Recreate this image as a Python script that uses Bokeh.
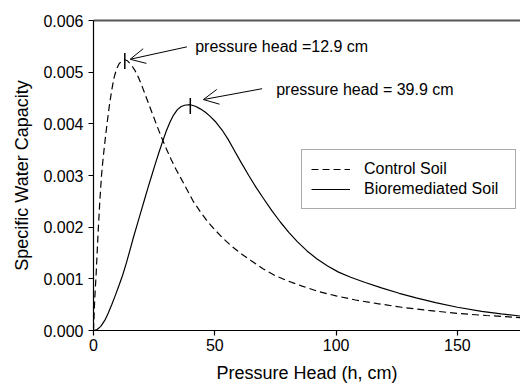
from bokeh.plotting import figure
from bokeh.models import (Range1d, FixedTicker, NumeralTickFormatter, LinearAxis,
                          Legend, LegendItem, Arrow, OpenHead, Label, ColumnDataSource)
from bokeh.embed import file_html
from bokeh.resources import INLINE

# ---- data ----
control_h = [0, 0.5, 1.1, 1.9, 2.6, 3.3, 4.0, 4.7, 5.5, 6.5, 7.5, 8.5, 9.5, 10.5,
             11.7, 12.9, 14.0, 15.0, 16.0, 17.0, 18.5, 20.0, 22.0, 24.0, 26.0, 28.0,
             30.0, 32.0, 34.0, 36.8, 41.0, 44.0, 47.0, 50.0, 53.5, 57.0, 61.0, 65.0,
             70.0, 75.0, 80.0, 86.0, 93.0, 100, 108, 117, 127, 138, 150, 162, 176]
control_c = [0, 0.0006, 0.0011, 0.0019, 0.0025, 0.0030, 0.00335, 0.00365, 0.00397,
             0.00434, 0.00465, 0.00490, 0.00506, 0.00516, 0.00522, 0.00524, 0.00522,
             0.00517, 0.00511, 0.00504, 0.00490, 0.00473, 0.00448, 0.00423, 0.00398,
             0.00374, 0.00352, 0.00331, 0.00312, 0.00288, 0.00251, 0.00230, 0.00211,
             0.00195, 0.00178, 0.00163, 0.00148, 0.00135, 0.00119, 0.00106, 0.00096,
             0.00086, 0.00075, 0.00067, 0.00059, 0.00052, 0.00045, 0.00039, 0.00033,
             0.00029, 0.00025]

bio_h = [0, 1.5, 3.0, 4.7, 6.0, 7.5, 9.0, 10.5, 12.0, 13.5, 15.0, 16.5, 18.0, 19.5,
         21.0, 22.5, 24.0, 25.5, 27.0, 28.5, 30.0, 31.5, 33.0, 34.5, 36.0, 37.5, 39.9,
         42.0, 44.0, 46.0, 48.0, 50.5, 53.0, 55.5, 58.0, 61.0, 64.0, 67.0, 70.0, 73.5,
         77.0, 80.5, 84.0, 88.0, 92.0, 96.5, 101, 106, 112, 119, 126, 133, 141, 150,
         160, 168, 176]
bio_c = [0, 0.00002, 0.00008, 0.0002, 0.00033, 0.0005, 0.00068, 0.00087, 0.00107,
         0.00130, 0.00155, 0.00181, 0.00205, 0.00229, 0.00253, 0.00277, 0.00300,
         0.00323, 0.00345, 0.00366, 0.00386, 0.00403, 0.00417, 0.00427, 0.00433,
         0.00436, 0.00437, 0.00434, 0.00429, 0.00423, 0.00415, 0.00403, 0.00388,
         0.00370, 0.00349, 0.00324, 0.00300, 0.00277, 0.00256, 0.00232, 0.00210,
         0.00190, 0.00172, 0.00154, 0.00139, 0.00125, 0.00113, 0.00103, 0.00093,
         0.00082, 0.00072, 0.00063, 0.00054, 0.00045, 0.00037, 0.00032, 0.00028]

x_ticks = [0, 50, 100, 150]
y_ticks = [0.000, 0.001, 0.002, 0.003, 0.004, 0.005, 0.006]

series_names = ["Control Soil", "Bioremediated Soil"]
peak_h = [12.9, 39.9]
peak_c = [0.00522, 0.00435]
peak_labels = ["pressure head =12.9 cm", "pressure head = 39.9 cm"]

# annotation anchors (data units)
arrow_tail_h = [38.5, 69.5]
arrow_tail_c = [0.00549, 0.00468]
arrow_tip_h = [15.1, 45.3]
arrow_tip_c = [0.00525, 0.00447]
label_h = [41.9, 75.3]
label_c = [0.00549, 0.00467]

FONT = "Liberation Sans"

p = figure(width=520, height=385, output_backend="svg", toolbar_location=None,
           x_range=Range1d(0, 176), y_range=Range1d(0, 0.006),
           min_border_left=93, min_border_right=0, min_border_top=20,
           min_border_bottom=51,
           x_axis_label="Pressure Head (h, cm)",
           y_axis_label="Specific Water Capacity")
p.grid.visible = False
p.outline_line_color = None
p.background_fill_color = "white"
p.border_fill_color = "white"

p.xaxis.ticker = FixedTicker(ticks=x_ticks)
p.yaxis.ticker = FixedTicker(ticks=y_ticks)
p.yaxis.formatter = NumeralTickFormatter(format="0.000")

for ax in (p.xaxis[0], p.yaxis[0]):
    ax.axis_line_color = "black"
    ax.axis_line_width = 1.2
    ax.major_tick_line_color = "black"
    ax.major_tick_line_width = 1.2
    ax.major_tick_in = 0
    ax.major_tick_out = 5
    ax.minor_tick_line_color = None
    ax.major_label_text_font = FONT
    ax.major_label_text_font_size = "16px"
    ax.major_label_text_color = "black"
    ax.axis_label_text_font = FONT
    ax.axis_label_text_font_size = "18px"
    ax.axis_label_text_font_style = "normal"
    ax.axis_label_text_color = "black"

p.xaxis.major_label_standoff = 3
p.xaxis.axis_label_standoff = 9
p.yaxis.major_label_standoff = 5
p.yaxis.axis_label_standoff = 8

top = LinearAxis(ticker=FixedTicker(ticks=[]), axis_line_color="#555555",
                 axis_line_width=2, major_tick_line_color=None,
                 minor_tick_line_color=None, major_label_text_font_size="0px",
                 major_tick_out=0, major_tick_in=0, major_label_standoff=0)
p.add_layout(top, "above")

src_c = ColumnDataSource(dict(h=control_h, c=control_c))
src_b = ColumnDataSource(dict(h=bio_h, c=bio_c))
r1 = p.line("h", "c", source=src_c, line_color="black", line_width=1.2,
            line_dash="7 4")
r2 = p.line("h", "c", source=src_b, line_color="black", line_width=1.2)

# peak markers
p.segment(x0=peak_h, y0=[c - 0.00016 for c in peak_c],
          x1=peak_h, y1=[c + 0.00015 for c in peak_c],
          line_color="black", line_width=1.5)

for i in range(len(peak_h)):
    p.add_layout(Arrow(x_start=arrow_tail_h[i], y_start=arrow_tail_c[i],
                       x_end=arrow_tip_h[i], y_end=arrow_tip_c[i],
                       line_color="black", line_width=1,
                       end=OpenHead(size=15, line_color="black", line_width=1)))
    p.add_layout(Label(x=label_h[i], y=label_c[i], text=peak_labels[i],
                       text_font=FONT, text_font_size="16px", text_color="black",
                       text_baseline="middle", text_align="left"))

legend = Legend(items=[LegendItem(label=series_names[0], renderers=[r1]),
                       LegendItem(label=series_names[1], renderers=[r2])],
                location=(208, 121), padding=9, spacing=0, margin=0,
                glyph_width=39, glyph_height=20, label_height=20, label_width=142,
                label_standoff=14, border_line_color="#555555", border_line_width=1.5,
                background_fill_color="white", background_fill_alpha=1,
                label_text_font=FONT, label_text_font_size="16px",
                label_text_color="black")
p.add_layout(legend, "center")

open("out.html", "w").write(file_html(p, INLINE))
